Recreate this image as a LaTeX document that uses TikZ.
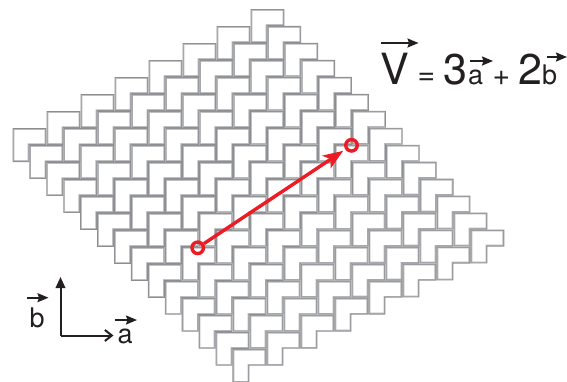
\documentclass[tikz,border=0pt]{standalone}
\usepackage{fontspec}
\setmainfont{TeX Gyre Heros}
\usepackage{tikz}
\usetikzlibrary{arrows.meta}
\definecolor{TileGray}{RGB}{140,142,145}
\definecolor{TileLight}{RGB}{182,183,186}
\definecolor{VecRed}{RGB}{237,28,36}
\definecolor{InkBlack}{RGB}{35,31,32}
\newcommand{\tileshape}[1]{(#1,#1) -- ({33.8-#1},#1) -- ({33.8-#1},{16.9-#1}) -- ({16.9-#1},{16.9-#1}) -- ({16.9-#1},{33.8-#1}) -- (#1,{33.8-#1}) -- cycle}
\tikzset{
  vecmark/.style={draw=InkBlack,line width=1.7pt,-{Stealth[length=11pt,width=9pt,inset=1.5pt]}},
  pin/.style={circle,draw=VecRed,line width=3.4pt,minimum size=11.5pt,inner sep=0pt},
  sym/.style={inner sep=0pt,text=InkBlack,anchor=base west}
}
\begin{document}
\begin{tikzpicture}[x=1pt,y=-1pt,>=Latex]
  \useasboundingbox (0,0) rectangle (567,381);
  \foreach \i in {0,...,13}
    \foreach \j in {0,...,7} {
      \begin{scope}[shift={({250.5+16.92*\i-34*\j},{9+16.97*\i+17.03*\j})}]
        \fill[TileGray] \tileshape{0};
        \fill[TileLight] \tileshape{0.9};
        \fill[white] \tileshape{1.8};
      \end{scope}
    }
  \node[pin] (start) at (197.7,247.8) {};
  \node[pin] (end) at (351.5,145.3) {};
  \draw[VecRed,line width=3.4pt,shorten >=2.5pt,-{Stealth[length=20pt,width=15pt,inset=5pt]}] (start) -- (end);
  \coordinate (origin) at (60.5,335.5);
  \coordinate (btip) at (60.5,277);
  \coordinate (atip) at (113.5,335.5);
  \draw[InkBlack,line width=2pt,-{Stealth[length=11pt,width=9.5pt,inset=0pt]}] (origin) -- (btip);
  \draw[InkBlack,line width=2pt,-{Straight Barb[length=7pt,width=11pt]}] (origin) -- (atip);
  \node[sym,font=\fontsize{27}{27}\selectfont] (blabel) at (29.5,327) {b};
  \coordinate (bv1) at (27,297.7);
  \coordinate (bv2) at (48.5,297.7);
  \draw[vecmark] (bv1) -- (bv2);
  \node[sym,font=\fontsize{27}{27}\selectfont] (alabel) at (117.5,343) {a};
  \coordinate (av1) at (115,320);
  \coordinate (av2) at (137,320);
  \draw[vecmark] (av1) -- (av2);
  \node[sym,font=\fontsize{43}{43}\selectfont] (vsym) at (380,84) {V};
  \coordinate (vv1) at (381,43);
  \coordinate (vv2) at (418.5,43);
  \draw[vecmark] (vv1) -- (vv2);
  \node[sym,font=\fontsize{30}{30}\selectfont] (eqsym) at (417.5,84.5) {=};
  \node[sym,font=\fontsize{43}{43}\selectfont] (three) at (443,84) {3};
  \node[sym,font=\fontsize{27}{27}\selectfont] (asym) at (468,84.5) {a};
  \coordinate (a1) at (470,61);
  \coordinate (a2) at (493,61);
  \draw[vecmark] (a1) -- (a2);
  \node[sym,font=\fontsize{30}{30}\selectfont] (plus) at (492.5,85) {+};
  \node[sym,font=\fontsize{43}{43}\selectfont] (two) at (518,84) {2};
  \node[sym,font=\fontsize{27}{27}\selectfont] (bsym) at (542,84.5) {b};
  \coordinate (b1) at (547,57);
  \coordinate (b2) at (567,57);
  \draw[vecmark] (b1) -- (b2);
\end{tikzpicture}
\end{document}
